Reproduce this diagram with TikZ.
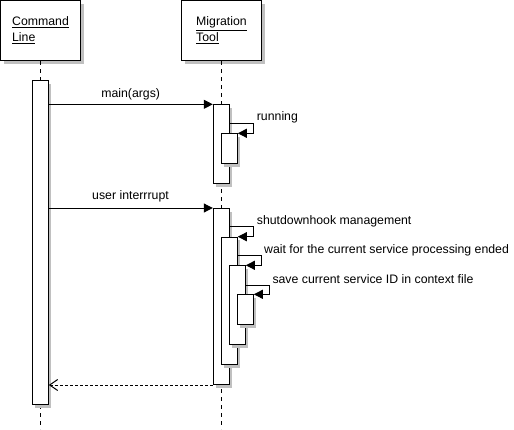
\documentclass[tikz,border=0pt]{standalone}
\usepackage{fontspec}
\setmainfont{Liberation Sans}
\usetikzlibrary{arrows.meta,shadows}
\definecolor{shadowgray}{RGB}{192,192,192}
\begin{document}
\begin{tikzpicture}[x=1pt,y=-1pt,
  every node/.style={font=\fontsize{12.3}{16}\selectfont},
  head/.style={draw,line width=1pt,fill=white,minimum width=80pt,minimum height=60pt,align=left,inner sep=0pt,
    drop shadow={shadow xshift=3pt,shadow yshift=-3pt,fill=shadowgray,opacity=1}},
  actbar/.style={draw,line width=1pt,fill=white,minimum width=16pt,inner sep=0pt,anchor=north,
    drop shadow={shadow xshift=3pt,shadow yshift=-3pt,fill=shadowgray,opacity=1}},
  life/.style={line width=1pt,dash pattern=on 4pt off 4pt},
  sync/.style={line width=1pt,-{Triangle[length=9pt,width=9pt]}},
  reply/.style={line width=1pt,dash pattern=on 3pt off 2pt,-{Straight Barb[length=8pt,width=11pt]}},
  lbl/.style={inner sep=0pt}]
\fill[white] (0,0) rectangle (514,429);
\useasboundingbox (0,0) rectangle (514,429);
% headers
\node[head] (cl) at (40.5,30.5) {\underline{Command}\\\underline{Line}};
\node[head] (mt) at (221.5,30.5) {\underline{Migration}\\\underline{Tool}};
\coordinate (clend) at (40.3,429);
\coordinate (mtend) at (221.3,429);
\draw[life] (cl.south -| clend) -- (clend);
\draw[life] (mt.south -| mtend) -- (mtend);
% activation bars
\node[actbar,minimum height=324pt] (clbar) at (40.3,80.3) {};
\node[actbar,minimum height=79pt] (b1) at (221.3,104.3) {};
\node[actbar,minimum height=30pt] (b2) at (229.3,133.3) {};
\node[actbar,minimum height=176pt] (b3) at (221.3,208) {};
\node[actbar,minimum height=127.3pt] (b4) at (229.3,236.7) {};
\node[actbar,minimum height=79pt] (b5) at (237.3,265.3) {};
\node[actbar,minimum height=30pt] (b6) at (245.3,294.3) {};
% messages
\draw[sync] (b1.north west -| clbar.east) -- (b1.north west);
\node[lbl] (l1) at (130.7,94.3) {main(args)};
\coordinate (r1) at (253.7,123.3);
\draw[sync] (r1 -| b1.east) -- (r1) |- (b2.north east);
\node[lbl,anchor=west] (l2) at (256.7,117.7) {running};
\draw[sync] (b3.north west -| clbar.east) -- (b3.north west);
\node[lbl] (l3) at (130.5,196.7) {user interrrupt};
\coordinate (r2) at (253.3,226);
\draw[sync] (r2 -| b3.east) -- (r2) |- (b4.north east);
\node[lbl,anchor=west] (l4) at (256.7,221) {shutdownhook management};
\coordinate (r3) at (261.3,255.7);
\draw[sync] (r3 -| b4.east) -- (r3) |- (b5.north east);
\node[lbl,anchor=west] (l5) at (264,250) {wait for the current service processing ended};
\coordinate (r4) at (269.3,285);
\draw[sync] (r4 -| b5.east) -- (r4) |- (b6.north east);
\node[lbl,anchor=west] (l6) at (272.3,279.3) {save current service ID in context file};
\draw[reply] (b3.south west) -- (b3.south west -| clbar.east);
\end{tikzpicture}
\end{document}
